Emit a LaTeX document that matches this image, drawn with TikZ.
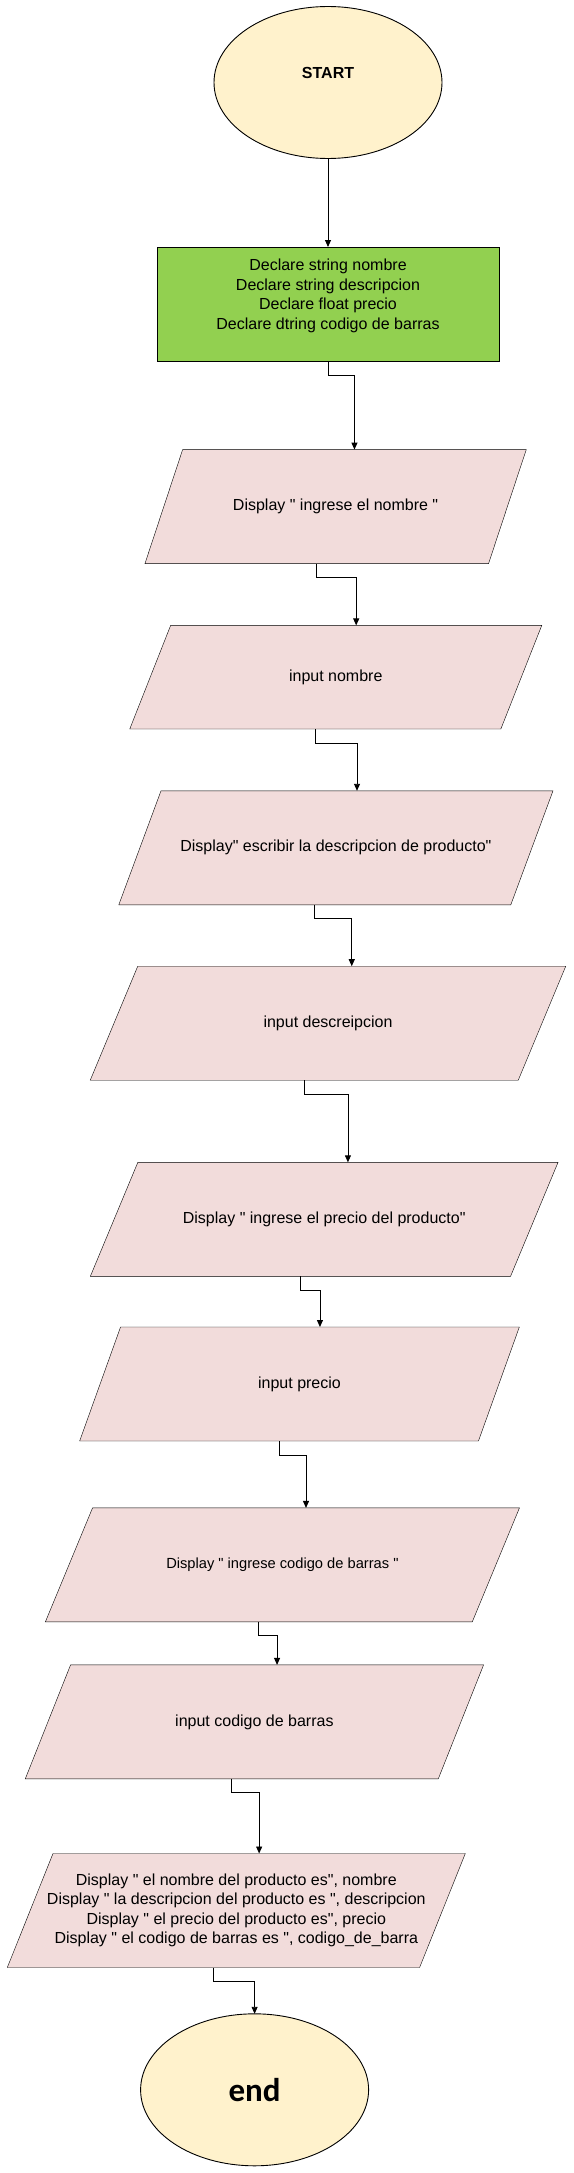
\documentclass[tikz,border=0pt]{standalone}
\usepackage{fontspec}
\newfontfamily\chartfont{Liberation Sans}
\newfontfamily\endfont{Carlito}
\usetikzlibrary{shapes.geometric,arrows.meta,backgrounds}
\definecolor{termfill}{HTML}{FFF2CC}
\definecolor{declfill}{HTML}{92D050}
\definecolor{iofill}{HTML}{F2DCDB}
\tikzset{
    term/.style={ellipse, draw, fill=termfill, minimum width=228pt, minimum height=152pt, inner sep=0pt, outer sep=0pt},
    declbox/.style={rectangle, draw, fill=declfill, minimum width=342pt, minimum height=114pt, align=center, inner sep=0pt, outer sep=0pt},
    io/.style={rectangle, minimum width=#1, minimum height=114pt, align=center, inner sep=0pt, outer sep=0pt},
    iobox/.style={fill=iofill, draw=black},
    flow/.style={-{Triangle[length=7pt,width=6pt]}},
}
\begin{document}
\begin{tikzpicture}[x=1pt, y=1pt, line width=0.9pt, font=\chartfont\fontsize{16}{19.5}\selectfont]
    \useasboundingbox (0,0) rectangle (573,-2173);
    \node[term, text depth=20pt] (start) at (328,-82.5) {\bfseries START};
    \node[declbox, text depth=19.4pt] (decl) at (328,-304) {Declare string nombre\\Declare string descripcion\\Declare float precio\\Declare dtring codigo de barras};
    \node[io=381.3pt] (disp1) at (335.6,-506.6) {Display " ingrese el nombre "};
    \node[io=412pt, minimum height=103.6pt] (in1) at (335.75,-677.2) {input nombre};
    \node[io=434.2pt] (disp2) at (335.9,-847.8) {Display" escribir la descripcion de producto"};
    \node[io=475.5pt] (in2) at (328,-1023.2) {input descreipcion};
    \node[io=467.7pt] (disp3) at (324.2,-1219.3) {Display " ingrese el precio del producto"};
    \node[io=439.7pt] (in3) at (299.5,-1384) {input precio};
    \node[io=474.1pt, font=\chartfont\fontsize{14.67}{17.6}\selectfont] (disp4) at (282.4,-1564.9) {Display " ingrese codigo de barras "};
    \node[io=458.3pt] (in4) at (254.4,-1721.9) {input codigo de barras};
    \node[io=458pt] (out) at (236.3,-1910.5) {Display " el nombre del producto es", nombre\\Display " la descripcion del producto es ", descripcion\\Display " el precio del producto es", precio\\Display " el codigo de barras es ", codigo\_de\_barra};
    \node[term] (stop) at (254.6,-2089.8) {\endfont\fontsize{33}{40}\selectfont\bfseries end};
    \begin{scope}[on background layer]
        \foreach \n/\s in {disp1/37.7, in1/40.9, disp2/42.2, in2/47.5, disp3/47.5, in3/40.9, disp4/47.2, in4/45.3, out/45.7}
            \filldraw[iobox] ([xshift=\s]\n.north west) -- (\n.north east) -- ([xshift=-\s]\n.south east) -- (\n.south west) -- cycle;
    \end{scope}
    \foreach \n/\s in {disp1/37.7, in1/40.9, disp2/42.2, in2/47.5, disp3/47.5, in3/40.9, disp4/47.2, in4/45.3, out/45.7} {
        \coordinate (\n-top) at ([xshift=\s/2]\n.north);
        \coordinate (\n-bot) at ([xshift=-\s/2]\n.south);
    }
    \draw[flow] (start.south) -- (decl.north);
    \draw[flow] (decl.south) -- ++(0,-14) -| (disp1-top);
    \draw[flow] (disp1-bot) -- ++(0,-14) -| (in1-top);
    \draw[flow] (in1-bot) -- ++(0,-14) -| (disp2-top);
    \draw[flow] (disp2-bot) -- ++(0,-14) -| (in2-top);
    \draw[flow] (in2-bot) -- ++(0,-14) -| (disp3-top);
    \draw[flow] (disp3-bot) -- ++(0,-14) -| (in3-top);
    \draw[flow] (in3-bot) -- ++(0,-14) -| (disp4-top);
    \draw[flow] (disp4-bot) -- ++(0,-14) -| (in4-top);
    \draw[flow] (in4-bot) -- ++(0,-14) -| (out-top);
    \draw[flow] (out-bot) -- ++(0,-14) -| (stop.north);
\end{tikzpicture}
\end{document}
